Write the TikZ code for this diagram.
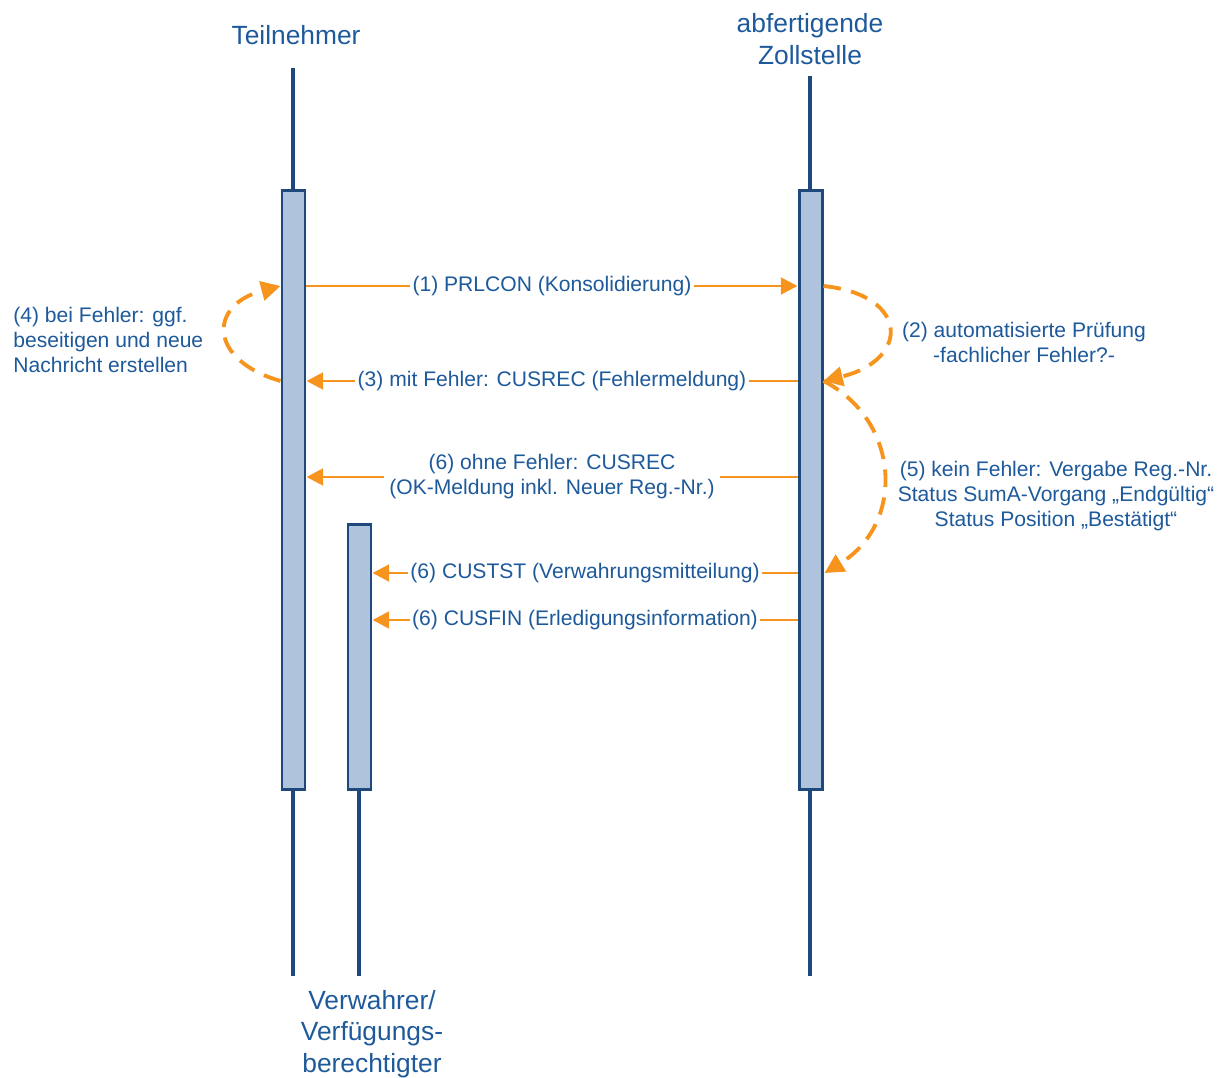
\documentclass[tikz,border=0pt]{standalone}
\usepackage{fontspec}
\setmainfont{Liberation Sans}
\usetikzlibrary{arrows.meta}
\definecolor{txtblue}{HTML}{1E5A9B}
\definecolor{navy}{HTML}{1F497D}
\definecolor{boxfill}{HTML}{B0C3DC}
\definecolor{orng}{HTML}{F7941D}
\begin{document}
\begin{tikzpicture}[x=0.02cm,y=-0.02cm,
  lifeline/.style={draw=navy,line width=1.9pt},
  actbox/.style={draw=navy,line width=1.7pt,fill=boxfill,minimum width=23*0.02cm,inner sep=0pt,anchor=north},
  title/.style={text=txtblue,font=\fontsize{15}{18.1}\selectfont,align=center,inner sep=0pt},
  lbl/.style={text=txtblue,font=\fontsize{12}{14.2}\selectfont,inner sep=0pt},
  msg/.style={draw=orng,line width=1.7pt,-{Triangle[length=9.5pt,width=9.5pt]}},
  msglbl/.style={lbl,fill=white,inner xsep=1.5pt,inner ysep=1pt,align=center},
  loop/.style={draw=orng,line width=2.2pt,dash pattern=on 10pt off 6pt,-{Triangle[length=11pt,width=11pt]}}
]
\useasboundingbox (0,0) rectangle (1224,1078);
% titles
\node[title] (tT) at (296,35) {Teilnehmer};
\node[title] (tZ) at (810,39) {abfertigende\\Zollstelle};
\node[title] (tV) at (372,1034) {Verwahrer/\\Verfügungs-\\berechtigter};
% lifelines
\coordinate (lTtop) at (293,68);  \coordinate (lTbot) at (293,976);
\coordinate (lZtop) at (810,76);  \coordinate (lZbot) at (810,976);
\coordinate (lVtop) at (359,788); \coordinate (lVbot) at (359,976);
\draw[lifeline] (lTtop) -- (lTbot);
\draw[lifeline] (lZtop) -- (lZbot);
\draw[lifeline] (lVtop) -- (lVbot);
% activation boxes
\node[actbox,minimum height=599*0.02cm] (bT) at (293.5,189) {};
\node[actbox,minimum height=599*0.02cm] (bZ) at (810.5,189) {};
\node[actbox,minimum height=265*0.02cm] (bV) at (359.5,523) {};
% message levels
\coordinate (y1) at (0,286);
\coordinate (y3) at (0,381);
\coordinate (y6) at (0,477);
\coordinate (y6a) at (0,573);
\coordinate (y6b) at (0,620);
% messages
\draw[msg] (bT.east |- y1) -- node[msglbl] {(1) PRLCON (Konsolidierung)} (bZ.west |- y1);
\draw[msg] (bZ.west |- y3) -- node[msglbl] {(3) mit Fehler: CUSREC (Fehlermeldung)} (bT.east |- y3);
\draw[msg] (bZ.west |- y6) -- node[msglbl,inner xsep=3pt] {(6) ohne Fehler: CUSREC\\(OK-Meldung inkl. Neuer Reg.-Nr.)} (bT.east |- y6);
\draw[msg] (bZ.west |- y6a) -- node[msglbl] {(6) CUSTST (Verwahrungsmitteilung)} (bV.east |- y6a);
\draw[msg] (bZ.west |- y6b) -- node[msglbl] {(6) CUSFIN (Erledigungsinformation)} (bV.east |- y6b);
% loops
\draw[loop] (bZ.east |- y1) .. controls (910,295) and (910,360) .. (bZ.east |- y3);
\draw[loop] (bZ.east |- y3) .. controls (900,420) and (906,523) .. ([xshift=1*0.02cm]bZ.east |- y6a);
\draw[loop] (bT.west |- y3) .. controls (208,360) and (208,305) .. (bT.west |- y1);
% loop labels
\node[lbl,anchor=west,align=left] (l4) at (13,340) {(4) bei Fehler: ggf.\\beseitigen und neue\\Nachricht erstellen};
\node[lbl,align=center] (l2) at (1024,342) {(2) automatisierte Prüfung\\-fachlicher Fehler?-};
\node[lbl,align=center] (l5) at (1056,496) {(5) kein Fehler: Vergabe Reg.-Nr.\\Status SumA-Vorgang „Endgültig“\\Status Position „Bestätigt“};
\end{tikzpicture}
\end{document}
